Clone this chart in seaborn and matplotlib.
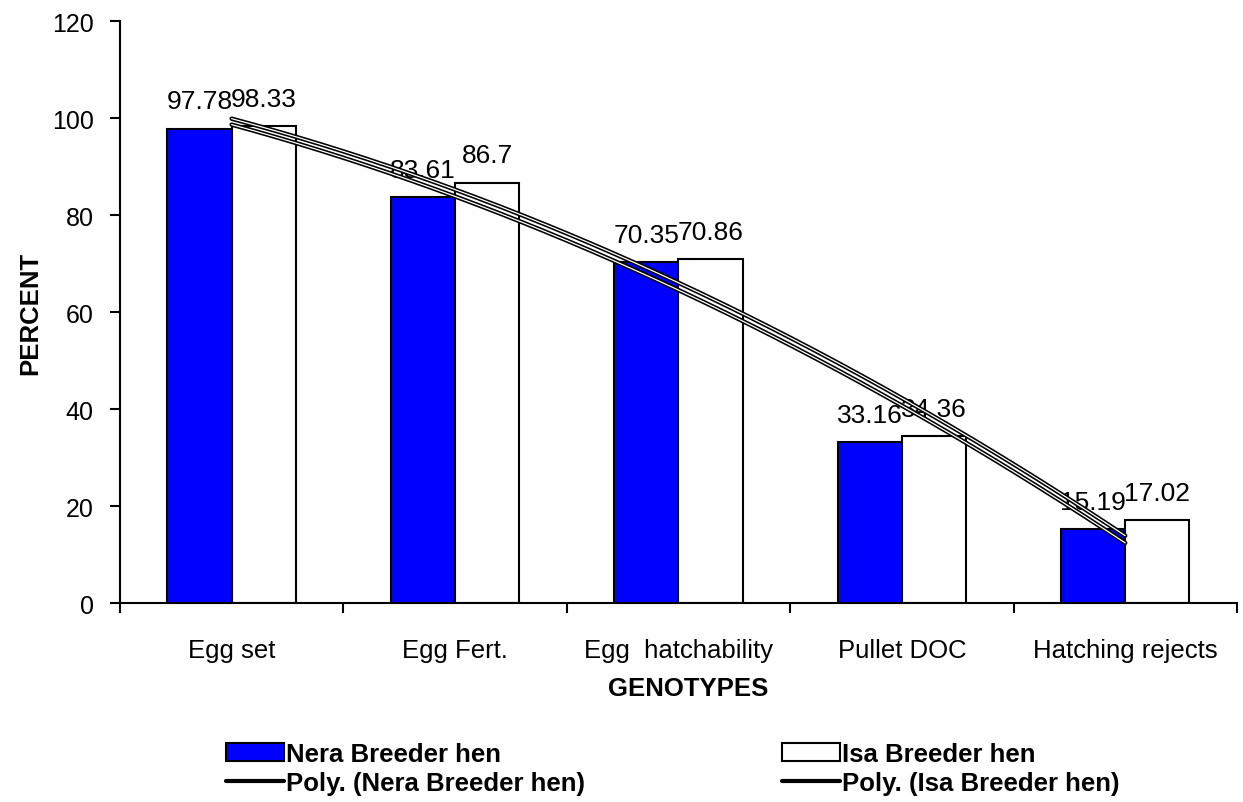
import numpy as np
import pandas as pd
import matplotlib
matplotlib.use("Agg")
import matplotlib.pyplot as plt
import seaborn as sns
from matplotlib.patches import Patch
from matplotlib.lines import Line2D

# Data
categories = ["Egg set", "Egg Fert.", "Egg  hatchability", "Pullet DOC", "Hatching rejects"]
nera = [97.78, 83.61, 70.35, 33.16, 15.19]
isa = [98.33, 86.7, 70.86, 34.36, 17.02]
series_names = ["Nera Breeder hen", "Isa Breeder hen"]
bar_colors = ["#0000FF", "#FFFFFF"]
y_ticks = [0, 20, 40, 60, 80, 100, 120]

df = pd.DataFrame({
    "Category": categories * 2,
    "Percent": nera + isa,
    "Breeder": [series_names[0]] * 5 + [series_names[1]] * 5,
})

sns.set_style("white")
plt.rcParams['font.family'] = ['Liberation Sans', 'DejaVu Sans']
plt.rcParams['text.color'] = 'black'
plt.rcParams['axes.labelcolor'] = 'black'
plt.rcParams['xtick.color'] = 'black'
plt.rcParams['ytick.color'] = 'black'

fig = plt.figure(figsize=(12.43, 8.03), dpi=100)
ax = fig.add_axes([0.0965, 0.2478, 0.8986, 0.7248])

sns.barplot(data=df, x="Category", y="Percent", hue="Breeder", order=categories,
            palette=bar_colors, saturation=1, edgecolor="black", linewidth=1.5,
            width=0.575, gap=0, ax=ax, legend=False, errorbar=None)

# value labels above bars
for cont in ax.containers:
    for bar in cont:
        h = bar.get_height()
        ax.annotate(f"{h:g}", (bar.get_x() + bar.get_width() / 2, h),
                    xytext=(0, 11), textcoords="offset points",
                    ha="center", va="bottom", fontsize=19, color="black")

# 2nd order polynomial trendlines (Excel style), one per series
xs = np.arange(len(categories))
xfine = np.linspace(0, len(categories) - 1, 200)
for vals in (nera, isa):
    coef = np.polyfit(xs, vals, 2)
    ax.plot(xfine, np.polyval(coef, xfine), color="black", lw=3.2, zorder=5)
    ax.plot(xfine, np.polyval(coef, xfine), color="white", lw=0.9, zorder=6)

ax.set_xlim(-0.5, len(categories) - 0.5)
ax.set_ylim(0, 120)
ax.set_yticks(y_ticks)
ax.tick_params(axis="y", labelsize=18, length=7, width=1.5, pad=12, direction="out", left=True)

# ticks at category boundaries, labels at centers
ax.set_xticks(np.arange(-0.5, len(categories), 1.0))
ax.set_xticklabels([])
ax.set_xticks(xs, minor=True)
ax.set_xticklabels(categories, minor=True)
ax.tick_params(axis="x", which="major", length=7, width=1.5, direction="out", bottom=True)
ax.tick_params(axis="x", which="minor", length=0, labelsize=18.5, pad=25)

for s in ["top", "right"]:
    ax.spines[s].set_visible(False)
for s in ["left", "bottom"]:
    ax.spines[s].set_linewidth(1.5)
    ax.spines[s].set_color("black")

ax.set_ylabel("PERCENT", fontsize=18.5, fontweight="bold")
ax.set_xlabel("GENOTYPES", fontsize=18.5, fontweight="bold")
ax.yaxis.set_label_coords(-0.070, 0.5)
ax.xaxis.set_label_coords(0.5085, -0.125)

handles = [Patch(facecolor=bar_colors[0], edgecolor="black", linewidth=1.5),
           Line2D([], [], color="black", lw=3),
           Patch(facecolor=bar_colors[1], edgecolor="black", linewidth=1.5),
           Line2D([], [], color="black", lw=3)]
labels = [series_names[0], "Poly. (Nera Breeder hen)",
          series_names[1], "Poly. (Isa Breeder hen)"]
fig.legend(handles, labels, ncol=2, loc="lower center", bbox_to_anchor=(0.541, -0.02),
           frameon=False, prop={"size": 18.5, "weight": "bold"},
           handlelength=2.25, handletextpad=0.08, columnspacing=7.67, labelspacing=0.2)

plt.savefig("out.png", dpi=100)
